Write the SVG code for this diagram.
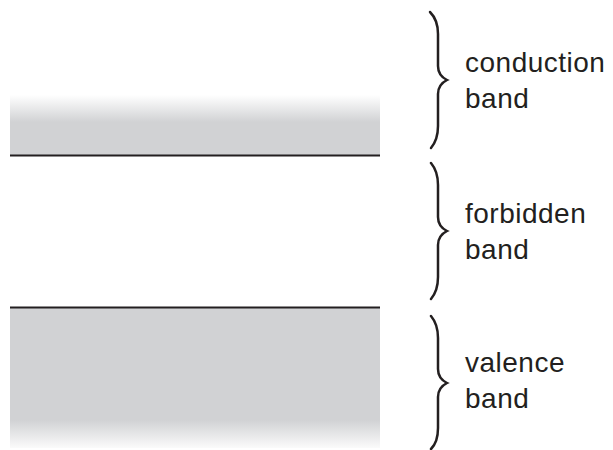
<svg xmlns="http://www.w3.org/2000/svg" width="613" height="450" viewBox="0 0 613 450">
<style>
.lbl{font-family:"Liberation Sans",Arial,sans-serif;font-size:28px;letter-spacing:0.5px;fill:#231f20}
.edge{stroke:#231f20;stroke-width:2.2;fill:none}
.brace{stroke:#231f20;stroke-width:2.5;fill:none;stroke-linecap:round}
</style>
<defs>
<linearGradient id="gc" x1="0" y1="0" x2="0" y2="1">
<stop offset="0" stop-color="#d1d2d4" stop-opacity="0"/>
<stop offset="0.45" stop-color="#d1d2d4"/>
<stop offset="1" stop-color="#d1d2d4"/>
</linearGradient>
<linearGradient id="gv" x1="0" y1="0" x2="0" y2="1">
<stop offset="0" stop-color="#d1d2d4"/>
<stop offset="0.8" stop-color="#d1d2d4"/>
<stop offset="1" stop-color="#d1d2d4" stop-opacity="0.1"/>
</linearGradient>
</defs>
<rect width="613" height="450" fill="#fff"/>
<g id="conduction">
<rect x="10" y="95" width="370" height="60" fill="url(#gc)"/>
<path class="brace" d="M430,12 C436,18 438,24 438,34 L438,66 C438,73 441,77 447,80 C441,83 438,87 438,94 L438,126 C438,136 436,142 431,148"/>
<text class="lbl" x="465" y="72">conduction</text>
<text class="lbl" x="465" y="108">band</text>
</g>
<g id="forbidden">
<path class="brace" d="M431,163 C436,169 438,175 438,185 L438,217 C438,224 441,228 447,231 C441,234 438,238 438,245 L438,277 C438,287 436,293 431,299"/>
<text class="lbl" x="465" y="223">forbidden</text>
<text class="lbl" x="465" y="259">band</text>
</g>
<g id="valence">
<rect x="10" y="308" width="370" height="140" fill="url(#gv)"/>
<path class="brace" d="M431,316 C436,322 438,328 438,338 L438,369 C438,376 441,380 447,383 C441,386 438,390 438,397 L438,428 C438,438 436,444 431,449"/>
<text class="lbl" x="465" y="372">valence</text>
<text class="lbl" x="465" y="408">band</text>
</g>
<g id="connectors">
<line class="edge" x1="10" y1="155.5" x2="380" y2="155.5"/>
<line class="edge" x1="10" y1="307.5" x2="380" y2="307.5"/>
</g>
</svg>
